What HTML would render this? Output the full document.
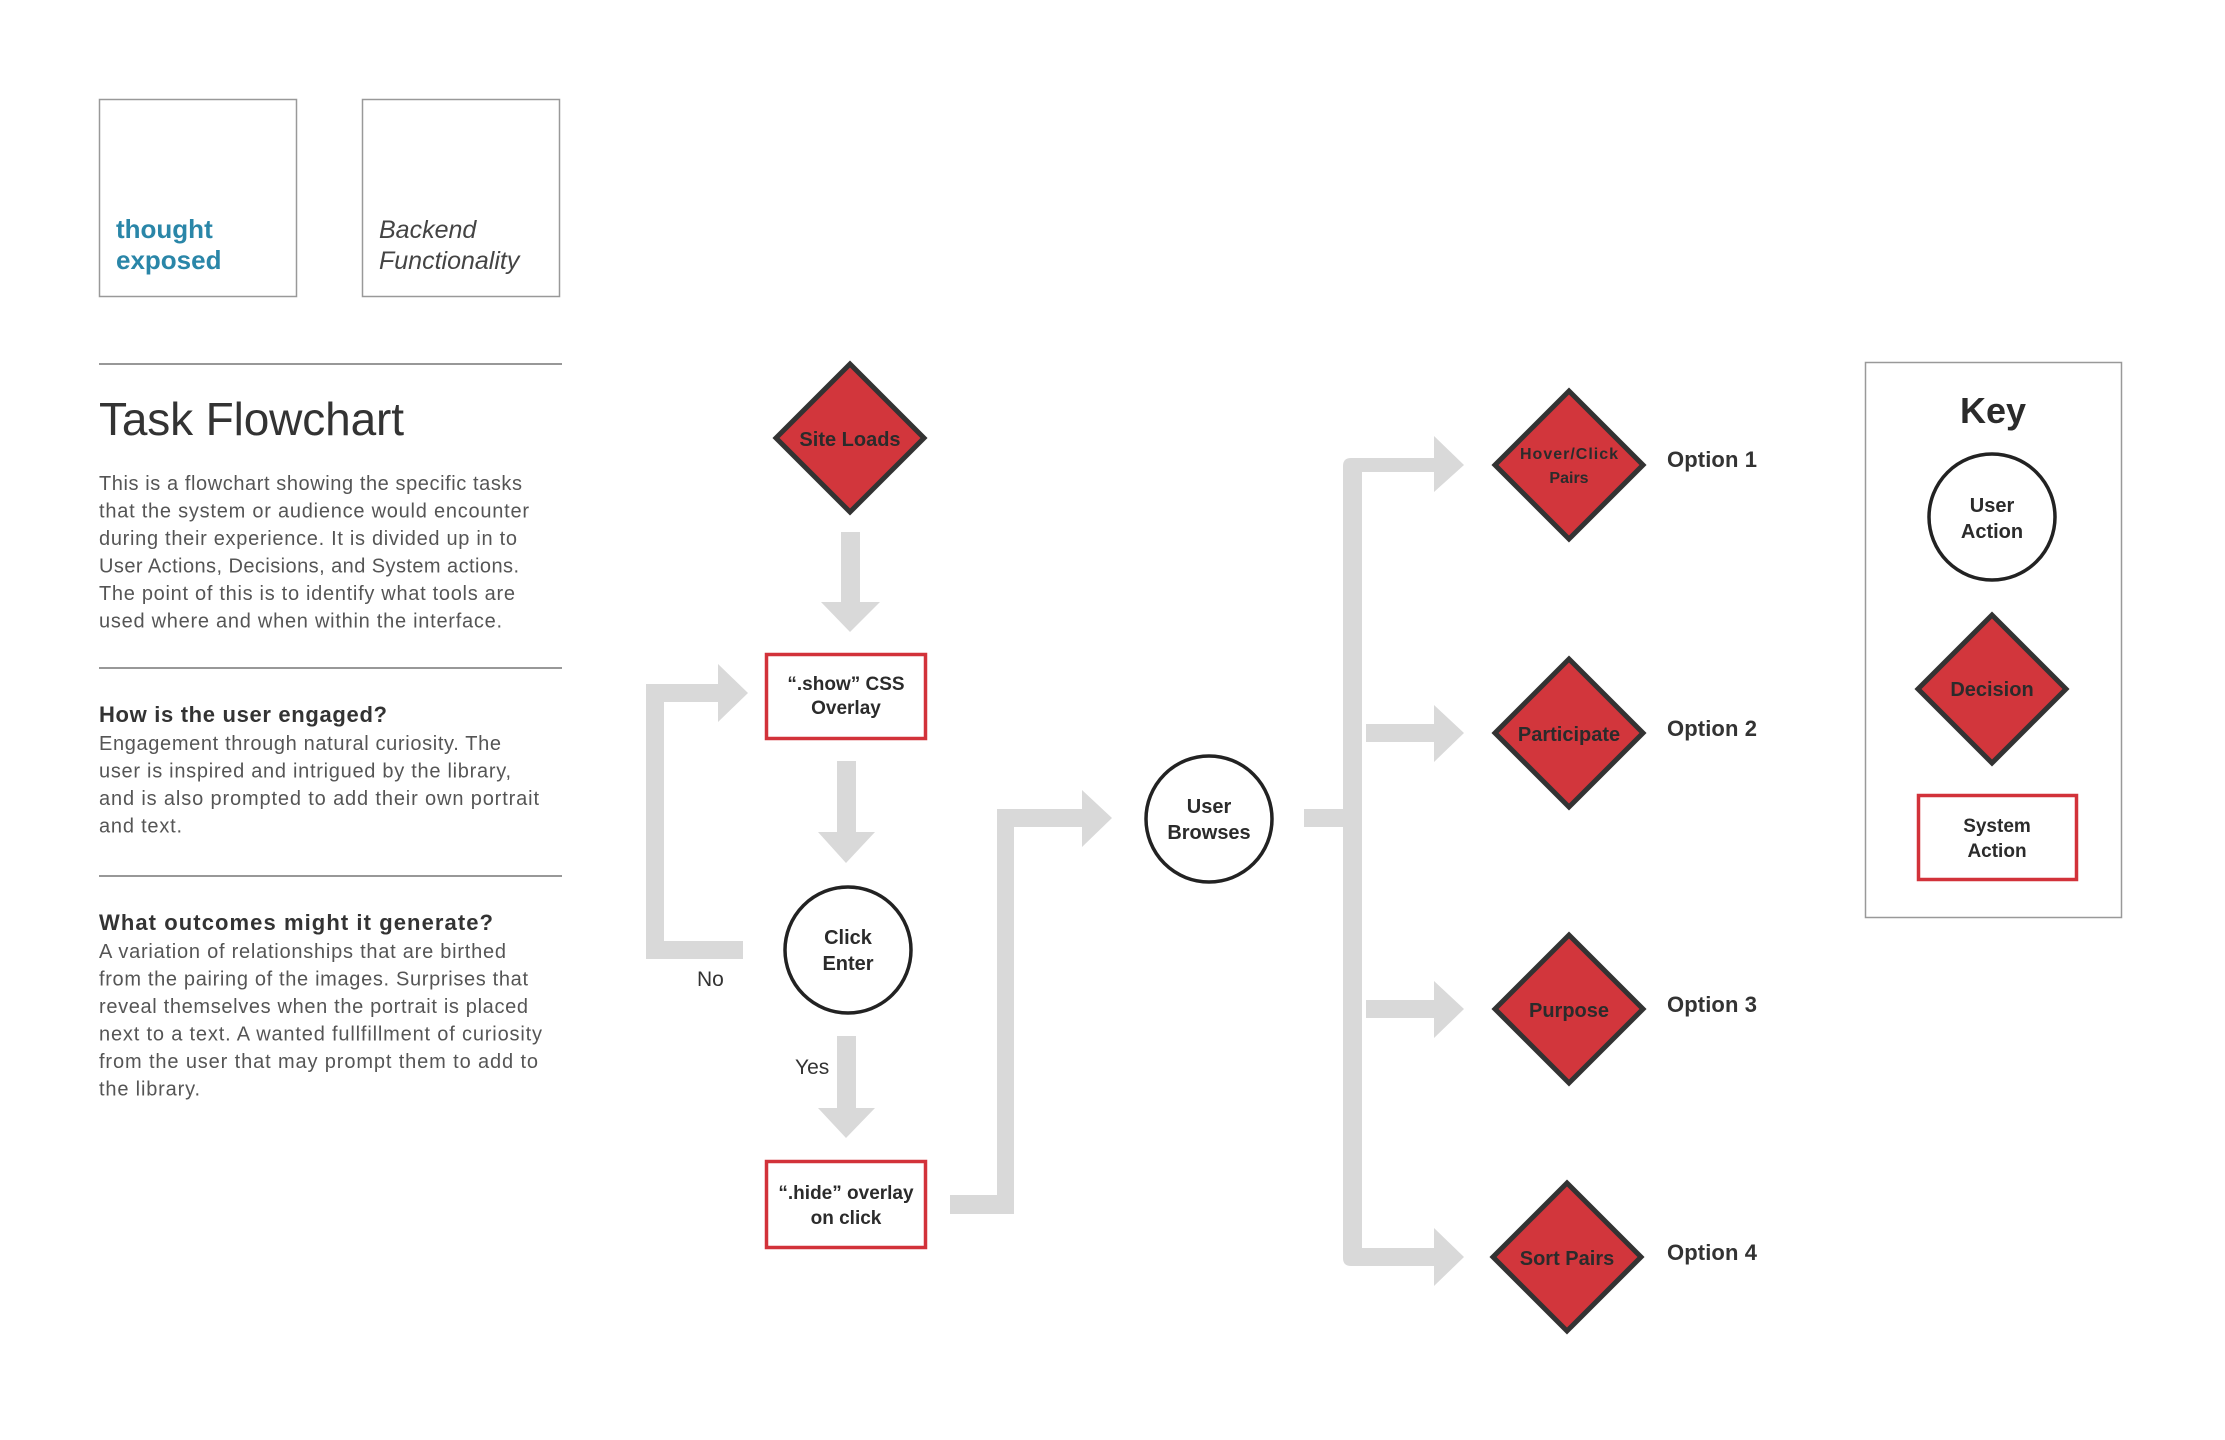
<!DOCTYPE html>
<html><head><meta charset="utf-8"><style>
html,body{margin:0;padding:0;background:#fff;}
svg{display:block;}
.b{font-family:"Liberation Sans",Arial,sans-serif;font-weight:bold;fill:#2b2b2b;}
.t{font-family:"Liberation Sans",Arial,sans-serif;fill:#555;font-size:20px;}
</style></head><body>
<svg width="2225" height="1440" viewBox="0 0 2225 1440" xmlns="http://www.w3.org/2000/svg">
<rect width="2225" height="1440" fill="#fff"/>
<!-- top boxes -->
<rect x="99.5" y="99.5" width="197" height="197" fill="none" stroke="#999" stroke-width="1.5"/>
<rect x="362.5" y="99.5" width="197" height="197" fill="none" stroke="#999" stroke-width="1.5"/>
<text x="116" y="238" font-family="Liberation Sans,sans-serif" font-weight="bold" font-size="26" fill="#2a86a8">thought</text>
<text x="116" y="269" font-family="Liberation Sans,sans-serif" font-weight="bold" font-size="26" fill="#2a86a8">exposed</text>
<text x="379" y="238" font-family="Liberation Sans,sans-serif" font-style="italic" font-size="25" fill="#444">Backend</text>
<text x="379" y="269" font-family="Liberation Sans,sans-serif" font-style="italic" font-size="25" fill="#444">Functionality</text>
<!-- dividers -->
<line x1="99" y1="364" x2="562" y2="364" stroke="#777" stroke-width="1.5"/>
<line x1="99" y1="668" x2="562" y2="668" stroke="#777" stroke-width="1.5"/>
<line x1="99" y1="876" x2="562" y2="876" stroke="#777" stroke-width="1.5"/>
<text x="99" y="435" font-family="Liberation Sans,sans-serif" font-size="46" fill="#333" textLength="305">Task Flowchart</text>
<g class="t">
<text x="99" y="490" textLength="423">This is a flowchart showing the specific tasks</text>
<text x="99" y="517.5" textLength="430">that the system or audience would encounter</text>
<text x="99" y="545" textLength="418">during their experience. It is divided up in to</text>
<text x="99" y="572.5" textLength="420">User Actions, Decisions, and System actions.</text>
<text x="99" y="600" textLength="416">The point of this is to identify what tools are</text>
<text x="99" y="627.5" textLength="403">used where and when within the interface.</text>
</g>
<text x="99" y="722" font-family="Liberation Sans,sans-serif" font-weight="bold" font-size="22" fill="#333" textLength="288">How is the user engaged?</text>
<g class="t">
<text x="99" y="750" textLength="402">Engagement through natural curiosity. The</text>
<text x="99" y="777.5" textLength="412">user is inspired and intrigued by the library,</text>
<text x="99" y="805" textLength="440">and is also prompted to add their own portrait</text>
<text x="99" y="832.5" textLength="83">and text.</text>
</g>
<text x="99" y="930" font-family="Liberation Sans,sans-serif" font-weight="bold" font-size="22" fill="#333" textLength="394">What outcomes might it generate?</text>
<g class="t">
<text x="99" y="958" textLength="407">A variation of relationships that are birthed</text>
<text x="99" y="985.5" textLength="429">from the pairing of the images. Surprises that</text>
<text x="99" y="1013" textLength="429">reveal themselves when the portrait is placed</text>
<text x="99" y="1040.5" textLength="443">next to a text. A wanted fullfillment of curiosity</text>
<text x="99" y="1068" textLength="439">from the user that may prompt them to add to</text>
<text x="99" y="1095.5" textLength="101">the library.</text>
</g>

<!-- connectors -->
<g fill="#d9d9d9">
<polygon points="841,532 860,532 860,602 880,602 850,632 821,602 841,602"/>
<polygon points="837,761 856,761 856,832 875,832 846,863 818,832 837,832"/>
<polygon points="837,1036 856,1036 856,1108 875,1108 846,1138 818,1108 837,1108"/>
<polygon points="743,941 743,959 646,959 646,684 718,684 718,664 748,693 718,722 718,702 664,702 664,941"/>
<polygon points="950,1195 997,1195 997,809 1082,809 1082,790 1112,818 1082,847 1082,827 1014,827 1014,1214 950,1214"/>
<rect x="1304" y="809" width="48" height="18"/>
<path d="M1434,458 L1434,436 L1464,465 L1434,492 L1434,472 L1362,472 L1362,1248 L1434,1248 L1434,1228 L1464,1257 L1434,1286 L1434,1266 L1351,1266 Q1343,1266 1343,1258 L1343,466 Q1343,458 1351,458 Z"/>
<polygon points="1366,724 1434,724 1434,705 1464,733 1434,762 1434,742 1366,742"/>
<polygon points="1366,1000 1434,1000 1434,981 1464,1009 1434,1038 1434,1018 1366,1018"/>
</g>

<!-- Site Loads -->
<polygon points="850,364 924,438 850,512 776,438" fill="#d2363c" stroke="#333" stroke-width="5"/>
<text class="b" x="850" y="446" font-size="20" text-anchor="middle">Site Loads</text>
<!-- show box -->
<rect x="766.5" y="654.5" width="159" height="84" fill="#fff" stroke="#d2323a" stroke-width="3.5"/>
<text class="b" x="846" y="690" font-size="19" text-anchor="middle">“.show” CSS</text>
<text class="b" x="846" y="714" font-size="19" text-anchor="middle">Overlay</text>
<!-- click enter -->
<circle cx="848" cy="950" r="63" fill="#fff" stroke="#222" stroke-width="3.5"/>
<text class="b" x="848" y="944" font-size="20" text-anchor="middle">Click</text>
<text class="b" x="848" y="970" font-size="20" text-anchor="middle">Enter</text>
<text x="697" y="986" font-family="Liberation Sans,sans-serif" font-size="21" fill="#333">No</text>
<text x="795" y="1074" font-family="Liberation Sans,sans-serif" font-size="21" fill="#333">Yes</text>
<!-- hide box -->
<rect x="766.5" y="1161.5" width="159" height="86" fill="#fff" stroke="#d2323a" stroke-width="3.5"/>
<text class="b" x="846" y="1199" font-size="19" text-anchor="middle">“.hide” overlay</text>
<text class="b" x="846" y="1224" font-size="19" text-anchor="middle">on click</text>
<!-- user browses -->
<circle cx="1209" cy="819" r="63" fill="#fff" stroke="#222" stroke-width="3.5"/>
<text class="b" x="1209" y="813" font-size="20" text-anchor="middle">User</text>
<text class="b" x="1209" y="839" font-size="20" text-anchor="middle">Browses</text>

<!-- decisions -->
<g fill="#d2363c" stroke="#333" stroke-width="5">
<polygon points="1569,391 1643,465 1569,539 1495,465"/>
<polygon points="1569,659 1643,733 1569,807 1495,733"/>
<polygon points="1569,935 1643,1009 1569,1083 1495,1009"/>
<polygon points="1567,1183 1641,1257 1567,1331 1493,1257"/>
</g>
<text class="b" x="1569" y="459" font-size="16" text-anchor="middle" textLength="98">Hover/Click</text>
<text class="b" x="1569" y="483" font-size="16" text-anchor="middle">Pairs</text>
<text class="b" x="1569" y="741" font-size="20" text-anchor="middle">Participate</text>
<text class="b" x="1569" y="1017" font-size="20" text-anchor="middle">Purpose</text>
<text class="b" x="1567" y="1265" font-size="20" text-anchor="middle">Sort Pairs</text>
<g font-family="Liberation Sans,sans-serif" font-weight="bold" font-size="22" fill="#333">
<text x="1667" y="467" textLength="90">Option 1</text>
<text x="1667" y="736" textLength="90">Option 2</text>
<text x="1667" y="1012" textLength="90">Option 3</text>
<text x="1667" y="1260" textLength="90">Option 4</text>
</g>

<!-- key -->
<rect x="1865.5" y="362.5" width="256" height="555" fill="none" stroke="#999" stroke-width="1.5"/>
<text class="b" x="1993" y="423" font-size="36" text-anchor="middle">Key</text>
<circle cx="1992" cy="517" r="63" fill="#fff" stroke="#222" stroke-width="3.5"/>
<text class="b" x="1992" y="512" font-size="20" text-anchor="middle">User</text>
<text class="b" x="1992" y="538" font-size="20" text-anchor="middle">Action</text>
<polygon points="1992,615 2066,689 1992,763 1918,689" fill="#d2363c" stroke="#333" stroke-width="5"/>
<text class="b" x="1992" y="696" font-size="20" text-anchor="middle">Decision</text>
<rect x="1918.5" y="795.5" width="158" height="84" fill="#fff" stroke="#d2323a" stroke-width="3.5"/>
<text class="b" x="1997" y="832" font-size="19" text-anchor="middle">System</text>
<text class="b" x="1997" y="857" font-size="19" text-anchor="middle">Action</text>
</svg>
</body></html>
